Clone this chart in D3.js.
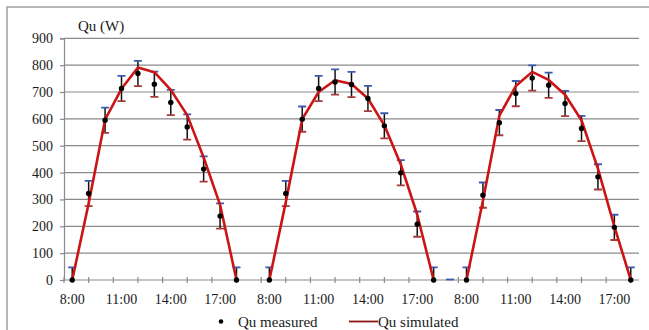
<!DOCTYPE html>
<html>
<head>
<meta charset="utf-8">
<script src="https://cdn.jsdelivr.net/npm/d3@7"></script>
<style>
  html, body { margin: 0; padding: 0; background: #fff; }
  svg { display: block; }
  text { font-family: "Liberation Serif", "Times New Roman", serif; fill: #1a1a1a; }
</style>
</head>
<body>
<svg id="chart" width="649" height="330"></svg>
<script>
// Hourly slots, 8:00-18:00 for three consecutive days; null marks the night gap.
const slotLabels = [
  "8:00","9:00","10:00","11:00","12:00","13:00","14:00","15:00","16:00","17:00","18:00",null,
  "8:00","9:00","10:00","11:00","12:00","13:00","14:00","15:00","16:00","17:00","18:00",null,
  "8:00","9:00","10:00","11:00","12:00","13:00","14:00","15:00","16:00","17:00","18:00"
];
const quMeasured = [
  0, 322, 595, 713, 769, 729, 661, 570, 413, 238, 0, null,
  0, 322, 599, 713, 737, 728, 676, 574, 399, 208, 0, null,
  0, 316, 586, 694, 752, 725, 657, 564, 384, 196, 0
];
const quSimulated = [
  0, 285, 597, 712, 791, 774, 708, 614, 456, 280, 0, null,
  0, 290, 599, 700, 744, 730, 676, 576, 430, 244, 0, null,
  0, 295, 612, 722, 775, 745, 690, 595, 415, 200, 0
];
const errorMargin = 47;            // ± W on each measurement
const strayCapSlots = [23];        // lone error-bar cap left at the second night gap
const xTickLabels = ["8:00", "11:00", "14:00", "17:00"];
const yTicks = [0, 100, 200, 300, 400, 500, 600, 700, 800, 900];

const svg = d3.select("#chart");
const plot = { left: 64, right: 639, top: 38.3, bottom: 280 };

// outer frame
svg.append("rect")
  .attr("x", 7).attr("y", 7).attr("width", 700).attr("height", 400)
  .attr("fill", "none").attr("stroke", "#a0a0a0").attr("stroke-width", 1.5);

const x = d3.scaleLinear().domain([-0.5, slotLabels.length - 0.5]).range([plot.left, plot.right]);
const y = d3.scaleLinear().domain([0, 900]).range([plot.bottom, plot.top]);

svg.append("defs").append("clipPath").attr("id", "plotClip")
  .append("rect").attr("x", plot.left).attr("y", plot.top - 2)
  .attr("width", plot.right - plot.left).attr("height", plot.bottom - plot.top + 2);

// horizontal gridlines
svg.append("g").selectAll("line").data(yTicks.filter(d => d > 0)).join("line")
  .attr("x1", plot.left).attr("x2", plot.right)
  .attr("y1", d => y(d)).attr("y2", d => y(d))
  .attr("stroke", "#8a8a8a").attr("stroke-width", 1.2);

// y axis
const yAxis = svg.append("g").attr("transform", `translate(${plot.left},0)`)
  .call(d3.axisLeft(y).tickValues(yTicks).tickSize(4).tickPadding(7));
yAxis.select(".domain").attr("stroke", "#8a8a8a").attr("stroke-width", 1.2);
yAxis.selectAll(".tick line").attr("stroke", "#8a8a8a").attr("stroke-width", 1.2);
yAxis.selectAll(".tick text").style("font-size", "14px").attr("fill", "#1a1a1a")
  .style("font-family", '"Liberation Serif", serif');

// x axis: line, cross ticks every 1.5 h, labels every 3 h
const xIdx = d3.range(slotLabels.length);
svg.append("line")
  .attr("x1", plot.left).attr("x2", plot.right)
  .attr("y1", plot.bottom).attr("y2", plot.bottom)
  .attr("stroke", "#8a8a8a").attr("stroke-width", 1.2);
const tickPos = d3.range(-0.5, slotLabels.length - 0.5, 1.5);
svg.append("g").selectAll("line").data(tickPos).join("line")
  .attr("x1", d => x(d)).attr("x2", d => x(d))
  .attr("y1", plot.bottom - 3).attr("y2", plot.bottom + 3)
  .attr("stroke", "#8a8a8a").attr("stroke-width", 1.2);
const labelled = xIdx.filter(i => xTickLabels.includes(slotLabels[i]));
svg.append("g").selectAll("text").data(labelled).join("text")
  .attr("x", i => x(i)).attr("y", 304)
  .attr("text-anchor", "middle").style("font-size", "14px")
  .text(i => slotLabels[i]);

// axis title
svg.append("text").attr("x", 78).attr("y", 31).style("font-size", "15px").text("Qu (W)");

// error bars
const eb = svg.append("g").attr("clip-path", "url(#plotClip)");
const measuredPts = xIdx.filter(i => quMeasured[i] !== null);
const capW = 4;
eb.selectAll("line.bar").data(measuredPts).join("line").attr("class", "bar")
  .attr("x1", i => x(i)).attr("x2", i => x(i))
  .attr("y1", i => y(quMeasured[i] - errorMargin)).attr("y2", i => y(quMeasured[i] + errorMargin))
  .attr("stroke", "#111").attr("stroke-width", 1.5);
eb.selectAll("line.top").data(measuredPts).join("line").attr("class", "top")
  .attr("x1", i => x(i) - capW).attr("x2", i => x(i) + capW)
  .attr("y1", i => y(quMeasured[i] + errorMargin)).attr("y2", i => y(quMeasured[i] + errorMargin))
  .attr("stroke", "#3b5bb0").attr("stroke-width", 1.8);
eb.selectAll("line.bot").data(measuredPts).join("line").attr("class", "bot")
  .attr("x1", i => x(i) - capW).attr("x2", i => x(i) + capW)
  .attr("y1", i => y(quMeasured[i] - errorMargin)).attr("y2", i => y(quMeasured[i] - errorMargin))
  .attr("stroke", "#a83a3a").attr("stroke-width", 1.8);
svg.append("g").selectAll("line").data(strayCapSlots).join("line")
  .attr("x1", i => x(i) - capW).attr("x2", i => x(i) + capW)
  .attr("y1", y(0) - 0.5).attr("y2", y(0) - 0.5)
  .attr("stroke", "#3b5bb0").attr("stroke-width", 1.8);

// simulated line
const line = d3.line()
  .defined(i => quSimulated[i] !== null)
  .x(i => x(i)).y(i => y(quSimulated[i]));
svg.append("path").datum(xIdx).attr("d", line)
  .attr("fill", "none").attr("stroke", "#cc1414").attr("stroke-width", 2.6)
  .attr("stroke-linejoin", "round");

// measured points
svg.append("g").selectAll("circle").data(measuredPts).join("circle")
  .attr("cx", i => x(i)).attr("cy", i => y(quMeasured[i])).attr("r", 2.7)
  .attr("fill", "#000");

// legend
const lg = svg.append("g");
lg.append("circle").attr("cx", 221).attr("cy", 321.5).attr("r", 2.3).attr("fill", "#000");
lg.append("text").attr("x", 238).attr("y", 327).style("font-size", "15px").text("Qu measured");
lg.append("line").attr("x1", 349).attr("x2", 378).attr("y1", 321.5).attr("y2", 321.5)
  .attr("stroke", "#8b1515").attr("stroke-width", 1.8);
lg.append("text").attr("x", 378).attr("y", 327).style("font-size", "15px").text("Qu simulated");
</script>
</body>
</html>
